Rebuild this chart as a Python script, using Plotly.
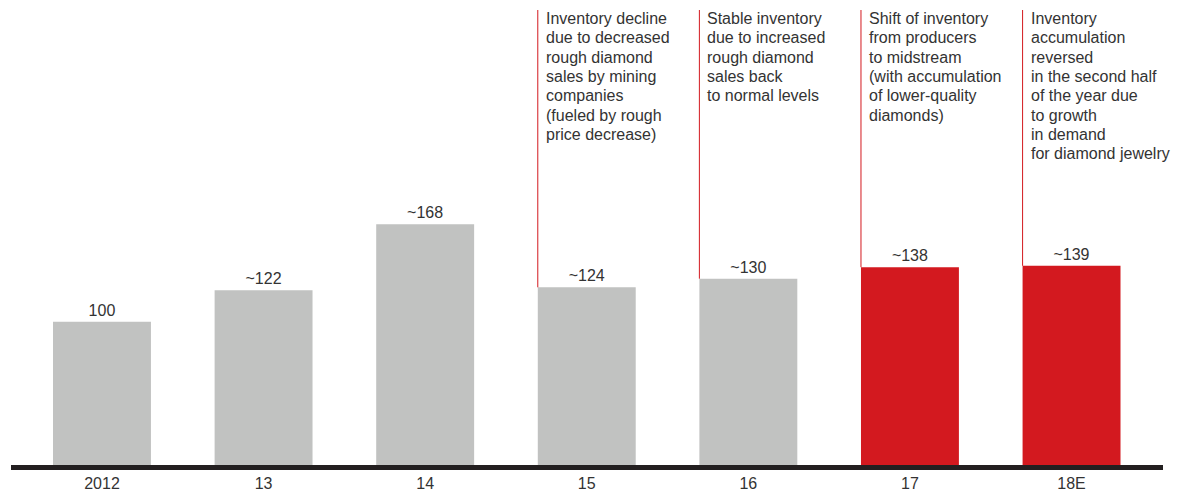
import plotly.graph_objects as go

# ---- data ----
categories = ["2012", "13", "14", "15", "16", "17", "18E"]
values = [100, 122, 168, 124, 130, 138, 139]
value_labels = ["100", "~122", "~168", "~124", "~130", "~138", "~139"]
note_categories = ["15", "16", "17", "18E"]
note_lines = [
    ["Inventory decline", "due to decreased", "rough diamond", "sales by mining",
     "companies", "(fueled by rough", "price decrease)"],
    ["Stable inventory", "due to increased", "rough diamond", "sales back",
     "to normal levels"],
    ["Shift of inventory", "from producers", "to midstream", "(with accumulation",
     "of lower-quality", "diamonds)"],
    ["Inventory", "accumulation", "reversed", "in the second half",
     "of the year due", "to growth", "in demand", "for diamond jewelry"],
]
highlighted = ["17", "18E"]

# ---- style ----
GRAY = "#c1c2c1"
RED = "#d3191f"
TEXT = "#333333"
FONT = "Liberation Sans, Arial, sans-serif"
FS = 16
BAR_W = 0.606
Y_MAX = 317.5
LINE_H = 19.3

colors = [RED if c in highlighted else GRAY for c in categories]

fig = go.Figure(go.Bar(
    x=list(range(len(categories))),
    y=values,
    width=BAR_W,
    marker=dict(color=colors, line=dict(width=0)),
    text=value_labels,
    textposition="outside",
    textfont=dict(family=FONT, size=FS, color=TEXT),
    cliponaxis=False,
    hoverinfo="skip",
))

shapes = []
annotations = []
for cat, lines in zip(note_categories, note_lines):
    i = categories.index(cat)
    x_left = i - BAR_W / 2
    shapes.append(dict(type="line", xref="x", yref="y",
                       x0=x_left, x1=x_left, y0=values[i], y1=Y_MAX,
                       line=dict(color=RED, width=1)))
    for k, line in enumerate(lines):
        annotations.append(dict(
            x=x_left, xref="x", y=1, yref="paper",
            xanchor="left", yanchor="middle",
            xshift=6, yshift=-(8.5 + k * LINE_H),
            text=line, showarrow=False, align="left",
            font=dict(family=FONT, size=FS, color=TEXT),
        ))

fig.update_layout(
    width=1177, height=491,
    margin=dict(l=11, r=14, t=10, b=26, autoexpand=False),
    paper_bgcolor="white", plot_bgcolor="white",
    showlegend=False,
    shapes=shapes,
    annotations=annotations,
    xaxis=dict(
        range=[-0.563, 6.566],
        tickmode="array",
        tickvals=list(range(len(categories))),
        ticktext=categories,
        tickfont=dict(family=FONT, size=FS, color=TEXT),
        showgrid=False, zeroline=False,
        showline=True, linecolor="#231f20", linewidth=5,
        ticks="", fixedrange=True, automargin=False,
    ),
    yaxis=dict(range=[0, Y_MAX], visible=False, showgrid=False,
               zeroline=False, fixedrange=True, automargin=False),
    font=dict(family=FONT, size=FS, color=TEXT),
)

fig.write_html("out.html", config={"displayModeBar": False})
